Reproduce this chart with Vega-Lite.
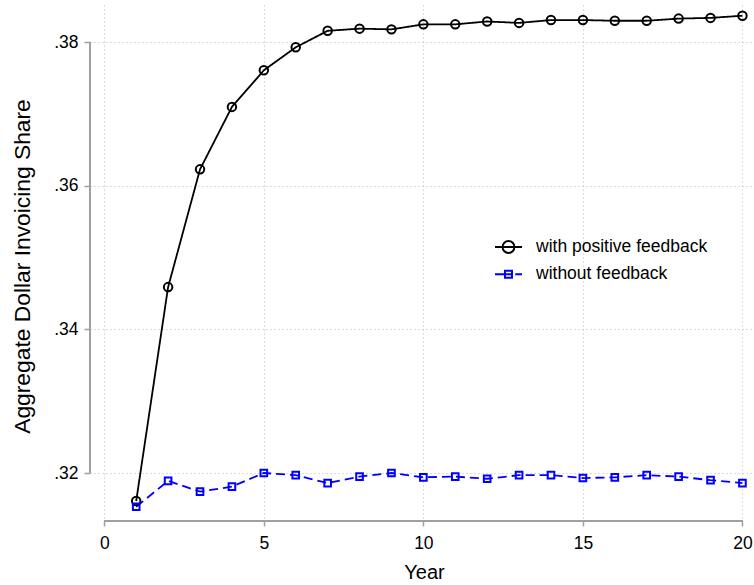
{
  "$schema": "https://vega.github.io/schema/vega-lite/v6.json",
  "autosize": {"type": "none"},
  "width": 662,
  "height": 516,
  "padding": {"left": 90, "top": 5, "right": 2, "bottom": 64},
  "background": "white",
  "config": {
    "view": {"stroke": null},
    "font": "Liberation Sans",
    "axis": {"labelColor": "black", "titleColor": "black", "titleFontWeight": "normal", "labelFont": "Liberation Sans", "titleFont": "Liberation Sans"},
    "legend": {"labelFont": "Liberation Sans", "labelColor": "black", "labelFontSize": 17.5, "labelLimit": 0, "labelOffset": 13, "padding": 0, "rowPadding": 0, "symbolSize": 729, "symbolStrokeWidth": 2, "symbolFillColor": "transparent", "orient": "none"}
  },
  "data": {"values": [
    {"year": 1, "series": "with positive feedback", "value": 0.3161},
    {"year": 2, "series": "with positive feedback", "value": 0.3459},
    {"year": 3, "series": "with positive feedback", "value": 0.3623},
    {"year": 4, "series": "with positive feedback", "value": 0.3710},
    {"year": 5, "series": "with positive feedback", "value": 0.3761},
    {"year": 6, "series": "with positive feedback", "value": 0.3793},
    {"year": 7, "series": "with positive feedback", "value": 0.3816},
    {"year": 8, "series": "with positive feedback", "value": 0.3819},
    {"year": 9, "series": "with positive feedback", "value": 0.3818},
    {"year": 10, "series": "with positive feedback", "value": 0.3825},
    {"year": 11, "series": "with positive feedback", "value": 0.3825},
    {"year": 12, "series": "with positive feedback", "value": 0.3829},
    {"year": 13, "series": "with positive feedback", "value": 0.3827},
    {"year": 14, "series": "with positive feedback", "value": 0.3831},
    {"year": 15, "series": "with positive feedback", "value": 0.3831},
    {"year": 16, "series": "with positive feedback", "value": 0.3830},
    {"year": 17, "series": "with positive feedback", "value": 0.3830},
    {"year": 18, "series": "with positive feedback", "value": 0.3833},
    {"year": 19, "series": "with positive feedback", "value": 0.3834},
    {"year": 20, "series": "with positive feedback", "value": 0.3837},
    {"year": 1, "series": "without feedback", "value": 0.3153},
    {"year": 2, "series": "without feedback", "value": 0.3189},
    {"year": 3, "series": "without feedback", "value": 0.3174},
    {"year": 4, "series": "without feedback", "value": 0.3181},
    {"year": 5, "series": "without feedback", "value": 0.3200},
    {"year": 6, "series": "without feedback", "value": 0.3197},
    {"year": 7, "series": "without feedback", "value": 0.3186},
    {"year": 8, "series": "without feedback", "value": 0.3195},
    {"year": 9, "series": "without feedback", "value": 0.3200},
    {"year": 10, "series": "without feedback", "value": 0.3194},
    {"year": 11, "series": "without feedback", "value": 0.3195},
    {"year": 12, "series": "without feedback", "value": 0.3192},
    {"year": 13, "series": "without feedback", "value": 0.3197},
    {"year": 14, "series": "without feedback", "value": 0.3197},
    {"year": 15, "series": "without feedback", "value": 0.3193},
    {"year": 16, "series": "without feedback", "value": 0.3194},
    {"year": 17, "series": "without feedback", "value": 0.3197},
    {"year": 18, "series": "without feedback", "value": 0.3195},
    {"year": 19, "series": "without feedback", "value": 0.3190},
    {"year": 20, "series": "without feedback", "value": 0.3186}
  ]},
  "encoding": {
    "x": {
      "field": "year", "type": "quantitative",
      "scale": {"domain": [-0.448, 20.30], "nice": false, "zero": false},
      "axis": {
        "values": [0, 5, 10, 15, 20], "format": "d", "domain": false,
        "title": "Year", "titleFontSize": 20, "titleX": 334, "titleY": 57, "titleAlign": "center", "titleBaseline": "alphabetic",
        "labelFontSize": 17.5, "labelPadding": 8, "tickSize": 5, "tickColor": "#a0a0a0", "tickWidth": 1.5,
        "grid": true, "gridDash": [1, 3], "gridColor": "#b8b8b8", "gridWidth": 1
      }
    },
    "y": {
      "field": "value", "type": "quantitative",
      "scale": {"domain": [0.313315, 0.385195], "nice": false, "zero": false},
      "axis": {
        "values": [0.32, 0.34, 0.36, 0.38], "labelExpr": "replace(format(datum.value, '.2f'), '0.', '.')", "domain": false,
        "title": "Aggregate Dollar Invoicing Share", "titleFontSize": 22.8, "titleX": -61, "titleY": 261, "titleAlign": "center", "titleBaseline": "alphabetic", "titleAngle": 270,
        "labelFontSize": 17.5, "labelPadding": 6, "tickSize": 6, "tickColor": "#a0a0a0", "tickWidth": 1.5,
        "grid": true, "gridDash": [1, 3], "gridColor": "#b8b8b8", "gridWidth": 1
      }
    }
  },
  "layer": [
    {
      "mark": {"type": "rule", "color": "#a0a0a0", "strokeWidth": 1.5},
      "encoding": {
        "x": {"datum": 0, "type": "quantitative"},
        "x2": {"datum": 20},
        "y": {"datum": 0.313315, "type": "quantitative"}
      }
    },
    {
      "mark": {"type": "rule", "color": "#a0a0a0", "strokeWidth": 1.5},
      "encoding": {
        "x": {"datum": -0.448, "type": "quantitative"},
        "y": {"datum": 0.32, "type": "quantitative"},
        "y2": {"datum": 0.38}
      }
    },
    {
      "mark": {"type": "line", "strokeWidth": 1.8},
      "encoding": {
        "color": {
          "field": "series", "type": "nominal",
          "scale": {"domain": ["with positive feedback", "without feedback"], "range": ["#000000", "#0000ff"]},
          "legend": {
            "values": ["with positive feedback"], "title": null, "legendX": 404, "legendY": 227.5,
            "symbolType": "M-1,0H1M-0.44,0A0.44,0.44 0 1,1 0.44,0A0.44,0.44 0 1,1 -0.44,0",
            "symbolStrokeColor": "#000000"
          }
        },
        "opacity": {
          "field": "series", "type": "nominal",
          "scale": {"domain": ["without feedback", "with positive feedback"], "range": [1, 1]},
          "legend": {
            "values": ["without feedback"], "title": null, "legendX": 404, "legendY": 254.8,
            "symbolType": "M-1,0H-0.26M-0.26,-0.26H0.26V0.26H-0.26ZM-0.26,0H0.26M0.5,0H1",
            "symbolStrokeColor": "#0000ff", "symbolOpacity": 1
          }
        },
        "strokeDash": {
          "field": "series", "type": "nominal",
          "scale": {"domain": ["without feedback", "with positive feedback", "x"], "range": [[9, 5], [1, 0], [1, 0]]},
          "legend": null
        }
      }
    },
    {
      "mark": {"type": "point", "filled": false, "strokeWidth": 2, "opacity": 1},
      "encoding": {
        "color": {"field": "series", "type": "nominal", "legend": null},
        "shape": {
          "field": "series", "type": "nominal",
          "scale": {"domain": ["without feedback", "with positive feedback", "y"], "range": ["square", "circle", "circle"]},
          "legend": null
        },
        "size": {
          "field": "series", "type": "nominal",
          "scale": {"domain": ["without feedback", "with positive feedback", "z"], "range": [44, 100, 100]},
          "legend": null
        }
      }
    }
  ]
}
